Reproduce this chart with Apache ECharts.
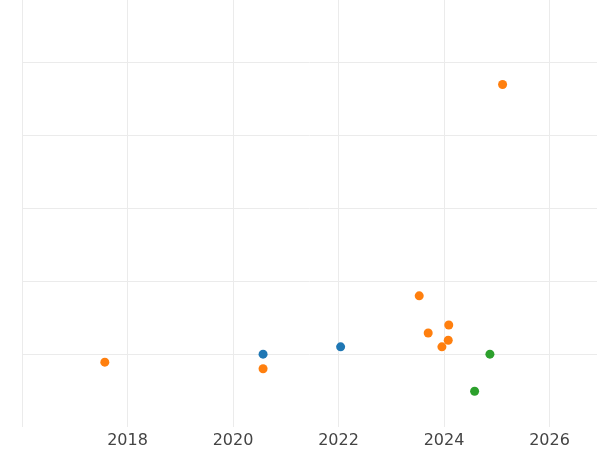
<!DOCTYPE html>
<html><head><meta charset="utf-8">
<script src="https://cdn.jsdelivr.net/npm/echarts@6/dist/echarts.min.js"></script>
<style>html,body{margin:0;padding:0;background:#fff}#chart{width:600px;height:450px}</style>
</head><body><div id="chart"></div>
<script>
// values: [year, value]
var orangePoints = [[2017.57,0.89],[2020.57,0.80],[2023.53,1.80],[2023.70,1.29],[2024.09,1.40],[2023.96,1.10],[2024.08,1.19],[2025.11,4.70]];
var bluePoints = [[2020.57,1.00],[2022.04,1.10]];
var greenPoints = [[2024.58,0.49],[2024.87,1.00]];
var xTicks = [2016,2018,2020,2022,2024,2026];

var chart = echarts.init(document.getElementById('chart'));
function series(data, color) {
  return {type:'scatter', data:data, symbolSize:9, itemStyle:{color:color, opacity:1}};
}
chart.setOption({
  animation:false,
  grid:{left:22, right:-3, top:0, bottom:23},
  xAxis:{type:'value', min:2016, max:2026.9, interval:2,
    axisLine:{show:false}, axisTick:{show:false},
    axisLabel:{fontSize:16, color:'#444', fontFamily:'DejaVu Sans', margin:6,
      formatter:function(v){return xTicks.indexOf(v)>0 ? String(v) : '';}},
    splitLine:{showMaxLine:false, lineStyle:{color:'#ebebeb', width:1}}},
  yAxis:{type:'value', min:0, max:5.86, interval:1,
    axisLine:{show:false}, axisTick:{show:false}, axisLabel:{show:false},
    splitLine:{showMaxLine:false, showMinLine:false, lineStyle:{color:'#ebebeb', width:1}}},
  series:[series(orangePoints,'#ff7f0e'), series(bluePoints,'#1f77b4'), series(greenPoints,'#2ca02c')]
});
</script></body></html>
